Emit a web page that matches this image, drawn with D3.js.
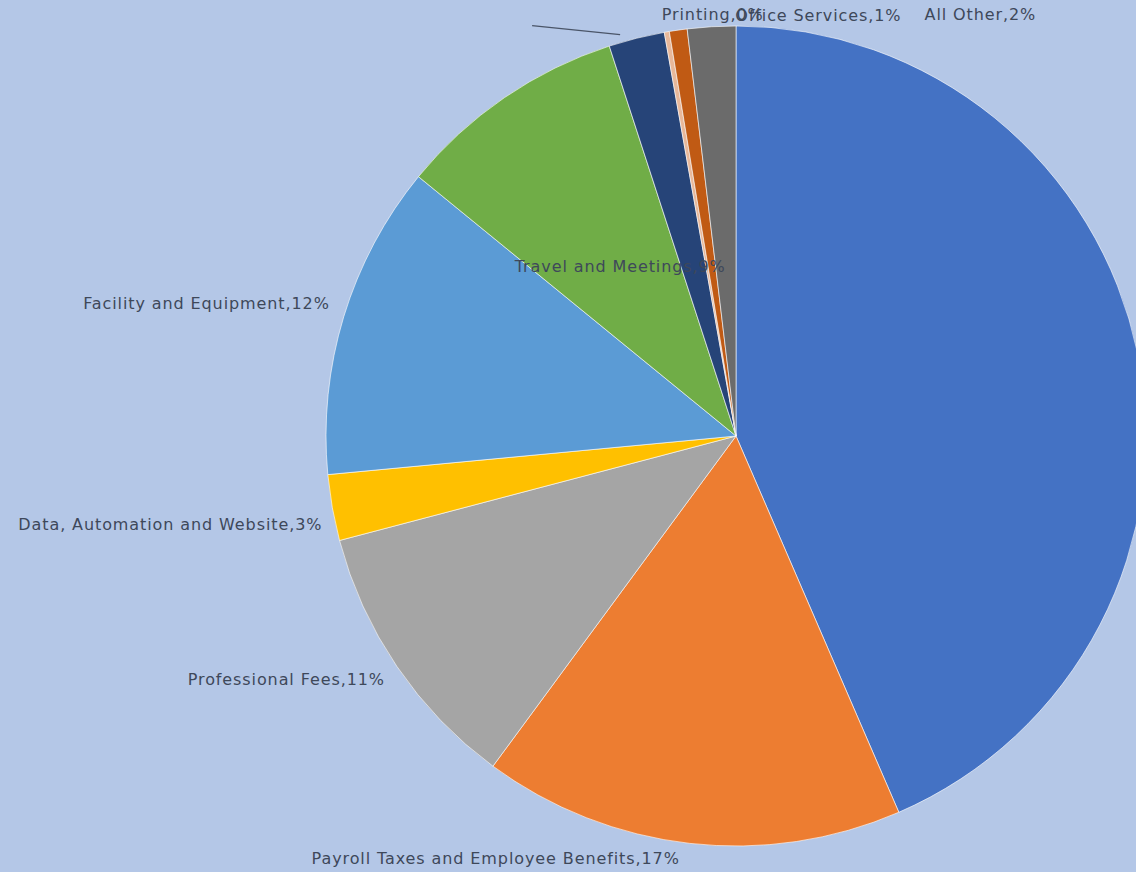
<!DOCTYPE html>
<html>
<head>
<meta charset="utf-8">
<script src="https://cdn.jsdelivr.net/npm/d3@7"></script>
<style>
  html, body { margin: 0; padding: 0; background: #b4c7e7; overflow: hidden; }
  svg { display: block; }
  text { font-family: "DejaVu Sans", sans-serif; font-size: 16px; letter-spacing: 0.9px; fill: #3e485a; }
</style>
</head>
<body>
<svg id="chart" width="1136" height="872"></svg>
<script>
// Expense categories, clockwise from 12 o'clock
const categories = [
  "Salaries and Wages",
  "Payroll Taxes and Employee Benefits",
  "Professional Fees",
  "Data, Automation and Website",
  "Facility and Equipment",
  "Travel and Meetings",
  "Other Expenses",
  "Printing",
  "Office Services",
  "All Other"
];
// Share of total expenses (percent)
const values = [43.5, 16.6, 10.8, 2.6, 12.4, 9.1, 2.2, 0.2, 0.7, 1.9];
// Slices whose data label is printed
const labelled = [false, true, true, true, true, true, false, true, true, true];
const colors = ["#4472c4", "#ed7d31", "#a5a5a5", "#ffc000", "#5b9bd5",
                "#70ad47", "#264478", "#e8b89a", "#c05a14", "#6b6b6b"];

const width = 1136, height = 872;
const cx = 736, cy = 436, radius = 410;

const svg = d3.select("#chart");
const g = svg.append("g").attr("transform", `translate(${cx},${cy})`);

const data = categories.map((c, i) => ({ name: c, value: values[i], color: colors[i], labelled: labelled[i] }));
const total = d3.sum(values);

const pie = d3.pie().sort(null).value(d => d.value);
const arc = d3.arc().innerRadius(0).outerRadius(radius);
const arcs = pie(data);

g.selectAll("path.slice")
  .data(arcs)
  .join("path")
  .attr("class", "slice")
  .attr("d", arc)
  .attr("fill", d => d.data.color)
  .attr("stroke", "#ffffff")
  .attr("stroke-opacity", 0.6)
  .attr("stroke-width", 1);

// point on the rim at the slice's mid angle
function rimPoint(d, k) {
  const a = (d.startAngle + d.endAngle) / 2;
  return [Math.sin(a) * radius * k, -Math.cos(a) * radius * k];
}

// label placement relative to the slice's rim point
const labelLayout = {
  "Payroll Taxes and Employee Benefits": { k: 1, dx: -10, dy: 15, anchor: "end" },
  "Professional Fees": { k: 1, dx: -12, dy: 13, anchor: "end" },
  "Data, Automation and Website": { k: 1, dx: -10, dy: 17, anchor: "end" },
  "Facility and Equipment": { k: 1, dx: -14, dy: -13, anchor: "end" },
  "Travel and Meetings": { k: 0.5, dx: 0, dy: 0, anchor: "middle" },
  "Printing": { k: 1, dx: -5, dy: -17, anchor: "start" },
  "Office Services": { k: 1, dx: 57, dy: -15, anchor: "start" },
  "All Other": { k: 1, dx: 213, dy: -12, anchor: "start" }
};

// leader line for the unlabelled small slice
const small = arcs[6];
const sp = (() => {
  const a = small.startAngle + (small.endAngle - small.startAngle) * 0.2;
  return [Math.sin(a) * radius, -Math.cos(a) * radius];
})();
g.append("line")
  .attr("x1", sp[0]).attr("y1", sp[1] - 8)
  .attr("x2", sp[0] - 88).attr("y2", sp[1] - 17)
  .attr("stroke", "#4a5568")
  .attr("stroke-width", 1.2);

g.selectAll("text.label")
  .data(arcs.filter(d => d.data.labelled))
  .join("text")
  .attr("class", "label")
  .attr("x", d => rimPoint(d, labelLayout[d.data.name].k)[0] + labelLayout[d.data.name].dx)
  .attr("y", d => rimPoint(d, labelLayout[d.data.name].k)[1] + labelLayout[d.data.name].dy)
  .attr("text-anchor", d => labelLayout[d.data.name].anchor)
  .attr("dominant-baseline", "central")
  .text(d => `${d.data.name},${Math.round(d.data.value / total * 100)}%`);
</script>
</body>
</html>
